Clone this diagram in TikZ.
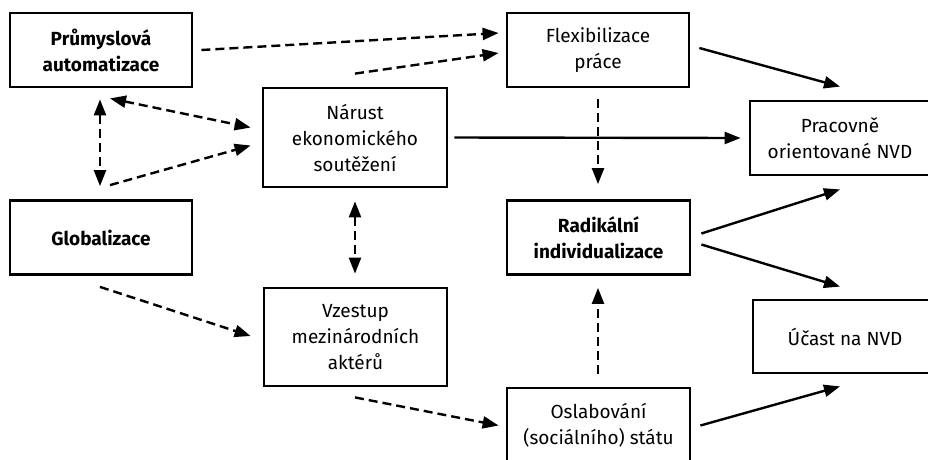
\documentclass[tikz,border=0pt]{standalone}
\usepackage{fontspec}
\setmainfont{Fira Sans}
\usetikzlibrary{arrows.meta,calc}
\begin{document}
\begin{tikzpicture}[x=1pt,y=-1pt,
  box/.style={draw,line width=2.8pt,inner sep=0pt,align=center,
    font=\fontsize{19}{26}\selectfont,minimum height=74pt},
  boxb/.style={box,font=\fontsize{19}{26}\selectfont\bfseries},
  conn/.style={line width=2.4pt,-{Triangle[length=16pt,width=12pt]}},
  connd/.style={conn,dash pattern=on 9pt off 5pt},
  conndd/.style={connd,{Triangle[length=16pt,width=12pt]}-{Triangle[length=16pt,width=12pt]}}]
\useasboundingbox (0,0) rectangle (928,459);
\clip (0,0) rectangle (928,459);
\fill[white] (0,0) rectangle (928,459);
\node[boxb,minimum width=182pt] (pa) at (101,50) {Průmyslová\\automatizace};
\node[boxb,minimum width=182pt] (gl) at (101,237.5) {Globalizace};
\node[box,minimum width=184pt,minimum height=99pt] (na) at (355,137.5) {Nárust\\ekonomického\\soutěžení};
\node[box,minimum width=183pt,minimum height=98pt] (vz) at (355.5,337) {Vzestup\\mezinárodních\\aktérů};
\node[box,minimum width=182pt] (fl) at (598,50) {Flexibilizace\\práce};
\node[boxb,minimum width=183pt] (ra) at (598.5,237.5) {Radikální\\individualizace};
\node[box,minimum width=183pt,minimum height=75pt] (os) at (598.5,425.5) {Oslabování\\(sociálního) státu};
\node[box,minimum width=180pt] (pr) at (840,138) {Pracovně\\orientované NVD};
\node[box,minimum width=184pt,minimum height=73pt] (uc) at (845,336.5) {Účast na NVD};
% dashed
\draw[connd] ($(pa.east)+(8,0)$) -- ($(fl.west)+(-7,-17)$);
\draw[connd] ($(na.north)+(0,-13)$) -- ($(fl.west)+(-7,3)$);
\draw[conndd] ($(pa.south)+(9,10)$) -- ($(na.west)+(-11,-10)$);
\draw[conndd] ($(pa.south)+(-1,11)$) -- ($(gl.north)+(-1,-13)$);
\draw[connd] ($(gl.north)+(9,-14)$) -- ($(na.west)+(-11,8)$);
\draw[conndd] ($(na.south)+(0,13)$) -- ($(vz.north)+(-0.5,-13)$);
\draw[connd] ($(gl.south)+(-1,11)$) -- ($(vz.west)+(-12,-1)$);
\draw[connd] ($(vz.south)+(-0.5,10)$) -- ($(os.west)+(-7,0)$);
\draw[connd] ($(fl.south)+(0,11)$) -- ($(ra.north)+(-0.5,-15)$);
\draw[connd] ($(os.north)+(-0.5,-13)$) -- ($(ra.south)+(-0.5,12)$);
% solid
\draw[conn] ($(na.east)+(6,0)$) -- ($(pr.west)+(-8,0)$);
\draw[conn] ($(fl.east)+(9,-2)$) -- ($(pr.north)+(0,-13)$);
\draw[conn] ($(ra.east)+(10,-4)$) -- ($(pr.south)+(0,13)$);
\draw[conn] ($(ra.east)+(10,7)$) -- ($(uc.north)+(-5,-12)$);
\draw[conn] ($(os.east)+(9,0)$) -- ($(uc.south)+(-5,12)$);
\end{tikzpicture}
\end{document}
